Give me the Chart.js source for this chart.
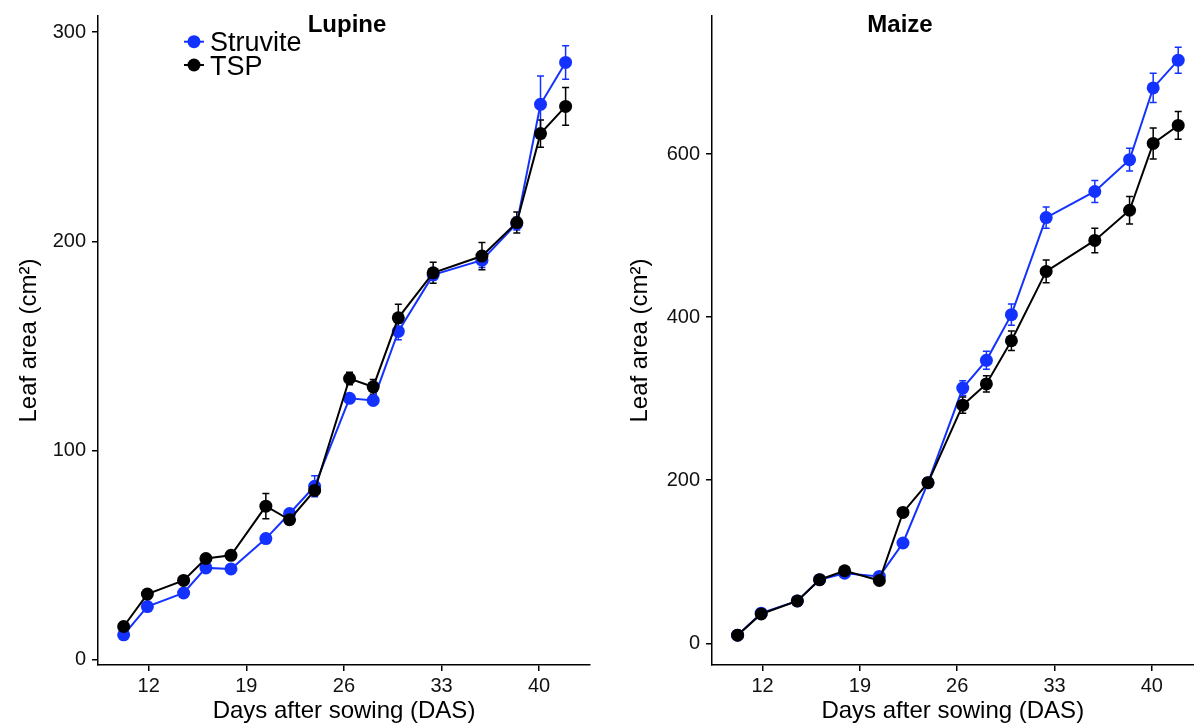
<!DOCTYPE html>
<html>
<head>
<meta charset="utf-8">
<title>Leaf area – Lupine and Maize</title>
<script src="https://cdn.jsdelivr.net/npm/chart.js@4.4.0/dist/chart.umd.min.js"></script>
<style>
  body { margin: 0; background: #fff; }
  #wrap { position: relative; width: 1194px; height: 726px; overflow: hidden; }
  canvas { position: absolute; top: 0; }
  #lupine-chart { left: 0; }
  #maize-chart { left: 600px; }
</style>
</head>
<body>
<div id="wrap">
  <canvas id="lupine-chart" width="600" height="726"></canvas>
  <canvas id="maize-chart" width="600" height="726"></canvas>
</div>
<script>
// Sampling days (same for both crops)
const days = [10.2, 11.9, 14.5, 16.1, 17.9, 20.4, 22.1, 23.9, 26.4, 28.1, 29.9, 32.4, 35.9, 38.4, 40.1, 41.9];
const dayTicks = [12, 19, 26, 33, 40];

// Lupine leaf area (cm2), mean and error
const lupineStruvite    = [12, 25.5, 32, 44, 43.5, 58, 70, 83, 125, 124, 157, 184, 191, 208.5, 265.5, 285.5];
const lupineStruviteErr = [1.5, 1.5, 1.5, 1.5, 1.5, 2, 2, 5, 2, 2, 4, 2.5, 3.5, 3, 13.5, 8];
const lupineTSP         = [16, 31.5, 38, 48.5, 50, 73.5, 67, 81, 134.5, 130.5, 163.5, 185, 193, 209, 251.5, 264.5];
const lupineTSPErr      = [2, 2, 1.5, 1.5, 1.5, 6, 2, 2, 3, 3.5, 6.5, 5, 6.5, 5, 6.5, 9];
const lupineTicks = [0, 100, 200, 300];

// Maize leaf area (cm2), mean and error
const maizeStruvite    = [10, 37, 52, 78, 86, 82, 123, 197, 313, 347, 403, 522, 554, 593, 681, 715];
const maizeStruviteErr = [2, 3, 3, 3, 3, 3, 5, 4, 9, 11, 13, 13, 13.5, 14, 18, 16];
const maizeTSP         = [10, 36, 52, 78, 89, 77, 160.5, 197, 292, 318, 371, 456, 494, 531, 613, 635];
const maizeTSPErr      = [2, 3, 3, 3, 3, 4, 5, 4, 10, 10, 12, 14, 15, 17, 19, 17];
const maizeTicks = [0, 200, 400, 600];

const seriesNames = ['Struvite', 'TSP'];
const seriesColors = ['#1432ff', '#000000'];

const FONT = '"Liberation Sans", Arial, Helvetica, sans-serif';

// error bars, drawn under the points
const errorBars = {
    id: 'errorBars',
    beforeDatasetsDraw(chart) {
        const ctx = chart.ctx;
        const yScale = chart.scales.y;
        chart.data.datasets.forEach((ds, di) => {
            const meta = chart.getDatasetMeta(di);
            ctx.save();
            ctx.strokeStyle = ds.borderColor;
            ctx.lineWidth = 1.5;
            meta.data.forEach((pt, i) => {
                const v = ds.data[i].y, e = ds.errors[i];
                const top = yScale.getPixelForValue(v + e);
                const bot = yScale.getPixelForValue(v - e);
                ctx.beginPath();
                ctx.moveTo(pt.x, top); ctx.lineTo(pt.x, bot);
                ctx.moveTo(pt.x - 3.5, top); ctx.lineTo(pt.x + 3.5, top);
                ctx.moveTo(pt.x - 3.5, bot); ctx.lineTo(pt.x + 3.5, bot);
                ctx.stroke();
            });
            ctx.restore();
        });
    }
};

// panel title inside the plot
const panelTitle = {
    id: 'panelTitle',
    afterDraw(chart, args, opts) {
        const ctx = chart.ctx;
        ctx.save();
        ctx.font = 'bold 24px ' + FONT;
        ctx.fillStyle = '#000';
        ctx.textAlign = 'center';
        ctx.textBaseline = 'alphabetic';
        ctx.fillText(opts.text, opts.x, opts.y);
        ctx.restore();
    }
};

// ggplot-like legend keys (line + point)
const lineLegend = {
    id: 'lineLegend',
    afterDraw(chart, args, opts) {
        const ctx = chart.ctx;
        ctx.save();
        ctx.font = '27px ' + FONT;
        ctx.textAlign = 'left';
        ctx.textBaseline = 'alphabetic';
        chart.data.datasets.forEach((ds, i) => {
            const y = opts.y + i * opts.gap;
            ctx.strokeStyle = ds.borderColor;
            ctx.fillStyle = ds.borderColor;
            ctx.lineWidth = 2;
            ctx.beginPath();
            ctx.moveTo(opts.x - 10, y); ctx.lineTo(opts.x + 10, y);
            ctx.stroke();
            ctx.beginPath();
            ctx.arc(opts.x, y, 6.5, 0, Math.PI * 2);
            ctx.fill();
            ctx.fillStyle = '#000';
            ctx.fillText(ds.label, opts.x + 16, y + 9.7);
        });
        ctx.restore();
    }
};

function makeDatasets(struvite, struviteErr, tsp, tspErr) {
    return [
        {
            label: seriesNames[0],
            data: days.map((d, i) => ({x: d, y: struvite[i]})),
            errors: struviteErr,
            borderColor: seriesColors[0],
            backgroundColor: seriesColors[0],
            order: 1
        },
        {
            label: seriesNames[1],
            data: days.map((d, i) => ({x: d, y: tsp[i]})),
            errors: tspErr,
            borderColor: seriesColors[1],
            backgroundColor: seriesColors[1],
            order: 0
        }
    ];
}

function makeScales(xMax, yMin, yMax, yTicks, yWidth, yTitlePad) {
    const axisLine = {display: true, color: '#000', width: 1.5};
    const tickMarks = {drawOnChartArea: false, drawTicks: true, tickLength: 6, color: '#000', lineWidth: 1.5};
    return {
        x: {
            type: 'linear',
            min: 8.36,
            max: xMax,
            afterBuildTicks: s => { s.ticks = dayTicks.map(v => ({value: v})); },
            afterFit: s => { s.height = 61; },
            border: axisLine,
            grid: tickMarks,
            ticks: {font: {family: FONT, size: 20}, color: '#111', padding: 3, maxRotation: 0, autoSkip: false},
            title: {display: true, text: 'Days after sowing (DAS)', font: {family: FONT, size: 24}, color: '#000', padding: {top: 0, bottom: 0}}
        },
        y: {
            type: 'linear',
            min: yMin,
            max: yMax,
            afterBuildTicks: s => { s.ticks = yTicks.map(v => ({value: v})); },
            afterFit: s => { s.width = yWidth; s.paddingTop = 0; s.paddingBottom = 0; },
            border: axisLine,
            grid: tickMarks,
            ticks: {font: {family: FONT, size: 20}, color: '#111', padding: 6},
            title: {display: true, text: 'Leaf area (cm²)', font: {family: FONT, size: 24}, color: '#000', padding: {top: yTitlePad, bottom: 0}}
        }
    };
}

const baseElements = {
    line: {borderWidth: 2, tension: 0},
    point: {radius: 6.5, borderWidth: 0, hoverRadius: 6.5}
};

// Lupine
new Chart(document.getElementById('lupine-chart').getContext('2d'), {
    type: 'line',
    data: {datasets: makeDatasets(lupineStruvite, lupineStruviteErr, lupineTSP, lupineTSPErr)},
    options: {
        responsive: false,
        animation: false,
        devicePixelRatio: 1,
        layout: {padding: {top: 16, right: 10, left: 0, bottom: 0}},
        elements: baseElements,
        scales: makeScales(43.65, -2.4, 307.7, lupineTicks, 98, 15),
        plugins: {
            legend: {display: false},
            tooltip: {enabled: false},
            panelTitle: {text: 'Lupine', x: 347, y: 31.5},
            lineLegend: {x: 194, y: 41.7, gap: 23.3}
        }
    },
    plugins: [errorBars, panelTitle, lineLegend]
});

// Maize
new Chart(document.getElementById('maize-chart').getContext('2d'), {
    type: 'line',
    data: {datasets: makeDatasets(maizeStruvite, maizeStruviteErr, maizeTSP, maizeTSPErr)},
    options: {
        responsive: false,
        animation: false,
        devicePixelRatio: 1,
        layout: {padding: {top: 16, right: 0, left: 0, bottom: 0}},
        elements: baseElements,
        scales: makeScales(43.0, -26.6, 769.2, maizeTicks, 112, 26),
        plugins: {
            legend: {display: false},
            tooltip: {enabled: false},
            panelTitle: {text: 'Maize', x: 300, y: 31.5}
        }
    },
    plugins: [errorBars, panelTitle]
});
</script>
</body>
</html>
